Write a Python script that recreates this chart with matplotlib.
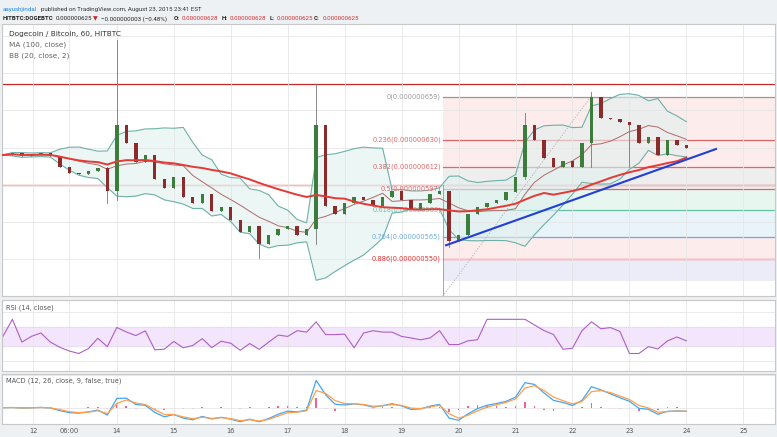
import matplotlib.pyplot as plt
import numpy as np
import pandas as pd

# 4-hour candles, x in days of August 2015, price in 1e-9 BTC
closes = [620, 621, 619, 620, 621, 619, 612, 608, 607, 609, 611, 596, 640, 628, 615, 620,
          604, 598, 605, 592, 588, 594, 582, 585, 576, 568, 572, 560, 566, 570, 572, 566,
          570, 640, 586, 580, 588, 592, 590, 586, 592, 596, 590, 584, 588, 594, 596, 562,
          566, 580, 585, 588, 590, 595, 605, 640, 630, 618, 612, 616, 612, 628, 659, 645,
          644, 642, 640, 628, 632, 620, 630, 627, 625]
spikes = {11: (612, 588), 12: (697, 590), 27: (572, 551), 33: (668, 560), 47: (596, 558),
          55: (648, 604), 62: (662, 612), 66: (642, 612)}
trend_x = [19.78, 24.52]
trend_y = [559.3, 624.0]
fib_ratios = [0, 0.236, 0.382, 0.5, 0.618, 0.764, 0.886, 1.0]
fib_prices = [659, 630, 612, 597, 583, 565, 550, 535]
fib_colors = ['#999999', '#e06666', '#e06666', '#e06666', '#66c2a5', '#6fa8dc', '#e83030', '#9999cc']
fib_fills = ['#fdecec', '#fdecec', '#eeeeee', '#e8f6f0', '#e9f3fa', '#fdecec', '#ececf8']
red_lines = [667.7, 599.5]
xtick_pos = [12.53, 13.16, 14, 15, 16, 17, 18, 19, 20, 21, 22, 23, 24, 25]
xtick_lab = ['12', '06:00', '14', '15', '16', '17', '18', '19', '20', '21', '22', '23', '24', '25']

x = 12.0 + np.arange(len(closes)) / 6
c = pd.Series(closes, dtype=float)
o = c.shift(1).fillna(c.iloc[0])
ma = c.rolling(25, min_periods=1).mean()
bm = c.rolling(8, min_periods=1).mean()
bs = c.rolling(8, min_periods=2).std().fillna(0)
up, lo = bm + 1.6 * bs, bm - 1.6 * bs

d = c.diff().fillna(0)
g = d.clip(lower=0).rolling(4, min_periods=1).mean()
l = (-d).clip(lower=0).rolling(4, min_periods=1).mean()
rsi = (100 * g / (g + l).replace(0, np.nan)).fillna(50)
macd = c.ewm(span=3).mean() - c.ewm(span=7).mean()
sig = macd.ewm(span=2).mean()

fig = plt.figure(figsize=(7.77, 4.37), dpi=100)
fig.patch.set_facecolor('#eef1f4')
W = 777.0
def head(px, s, y=0.985, **kw):
    fig.text(px / W, y, s, fontsize=4.4, va='top', family=['Roboto', 'DejaVu Sans'], **kw)
head(3, 'aayushjindal', color='#1e88e5')
head(41, 'published on TradingView.com, August 23, 2015 23:41 EST', color='#333')
y2 = 0.963
head(3, 'HITBTC:DOGEBTC', y2, weight='bold', color='#222')
head(56, '0.000000625', y2, color='#222')
head(93, '▼', y2, color='#c62828')
head(101, '−0.000000003 (−0.48%)', y2, color='#222')
head(174, 'O:', y2, weight='bold', color='#222')
head(182, '0.000000628', y2, color='#d32f2f')
head(222, 'H:', y2, weight='bold', color='#222')
head(230, '0.000000628', y2, color='#d32f2f')
head(270, 'L:', y2, weight='bold', color='#222')
head(277, '0.000000625', y2, color='#d32f2f')
head(314, 'C:', y2, weight='bold', color='#222')
head(323, '0.000000625', y2, color='#d32f2f')

ax = fig.add_axes([0.003, 0.322, 0.994, 0.623])
ar = fig.add_axes([0.003, 0.152, 0.994, 0.162], sharex=ax)
am = fig.add_axes([0.003, 0.030, 0.994, 0.115], sharex=ax)
for a in (ax, ar, am):
    a.set_facecolor('white')
    a.grid(color='#e6e6e6', lw=0.6)
    a.tick_params(left=False, labelleft=False, bottom=False, labelbottom=False)
    for s in a.spines.values():
        s.set_color('#c8c8c8')
ax.set_xlim(11.99, 25.55)
ax.set_ylim(525, 708)
ax.set_xticks(xtick_pos)

# fibonacci retracement
fx0 = 19.72
for i in range(len(fib_prices) - 1):
    ax.fill_between([fx0, 25.6], fib_prices[i + 1], fib_prices[i], color=fib_fills[i], lw=0, zorder=0)
for r, p, col in zip(fib_ratios[:-1], fib_prices[:-1], fib_colors[:-1]):
    ax.plot([fx0, 25.6], [p, p], color=col, lw=0.9, zorder=1)
    ax.text(fx0 - 0.03, p, '%g(0.000000%d)' % (r, p), fontsize=4.8, color=col, ha='right', va='center')
ax.plot([fx0, fx0], [525, 600], color='#999', lw=0.6)
ax.plot([fx0, 22.32], [525, 659], color='#aaa', lw=0.5, ls=(0, (2, 2)))
for p in red_lines:
    ax.axhline(p, color='#c62828', lw=0.9, zorder=1)

ax.fill_between(x, lo, up, color='#dff0ef', alpha=0.6, lw=0, zorder=1)
ax.plot(x, up, color='#6fb0a8', lw=0.8, zorder=2)
ax.plot(x, lo, color='#6fb0a8', lw=0.8, zorder=2)
ax.plot(x, bm, color='#b06a6a', lw=0.7, zorder=2)

w = 0.06
for i in range(len(closes)):
    op, cl = o[i], c[i]
    hi, lw_ = spikes.get(i, (max(op, cl), min(op, cl)))
    col = '#3c7d3e' if cl >= op else '#8b2b2b'
    ax.plot([x[i], x[i]], [lw_, hi], color='#777', lw=0.6, zorder=3)
    ax.bar(x[i], max(abs(cl - op), 0.6), bottom=min(op, cl), width=w, color=col, zorder=4)
ax.plot(x, ma, color='#e53935', lw=1.4, zorder=5)
ax.plot(trend_x, trend_y, color='#1f3fd8', lw=1.5, zorder=6)

ax.text(0.009, 0.975, 'Dogecoin / Bitcoin, 60, HITBTC', transform=ax.transAxes, fontsize=5.3, va='top', color='#333')
ax.text(0.009, 0.935, 'MA (100, close)', transform=ax.transAxes, fontsize=5.3, va='top', color='#666')
ax.text(0.009, 0.895, 'BB (20, close, 2)', transform=ax.transAxes, fontsize=5.3, va='top', color='#666')

ar.set_ylim(-20, 125)
ar.axhspan(30, 70, color='#f3e5fb')
ar.axhline(30, color='#ccc', lw=0.5, ls=':')
ar.axhline(70, color='#ccc', lw=0.5, ls=':')
ar.plot(x, rsi * 0.7 + 15, color='#ad5fc7', lw=0.8)
ar.text(0.005, 0.93, 'RSI (14, close)', transform=ar.transAxes, fontsize=4.8, va='top', color='#555')

hist = macd - sig
am.bar(x, hist, width=0.03, color='#f06292')
am.plot(x, macd, color='#42a5f5', lw=0.9)
am.plot(x, sig, color='#ff9f4a', lw=0.9)
am.set_ylim(macd.min() * 1.15, macd.max() * 1.25)
am.text(0.005, 0.93, 'MACD (12, 26, close, 9, false, true)', transform=am.transAxes, fontsize=4.8, va='top', color='#555')
for xp, lb in zip(xtick_pos, xtick_lab):
    am.text(xp, -0.08, lb, transform=am.get_xaxis_transform(), fontsize=4.8, ha='center', va='top', color='#555')

fig.savefig('out.png', dpi=100, facecolor=fig.get_facecolor())
